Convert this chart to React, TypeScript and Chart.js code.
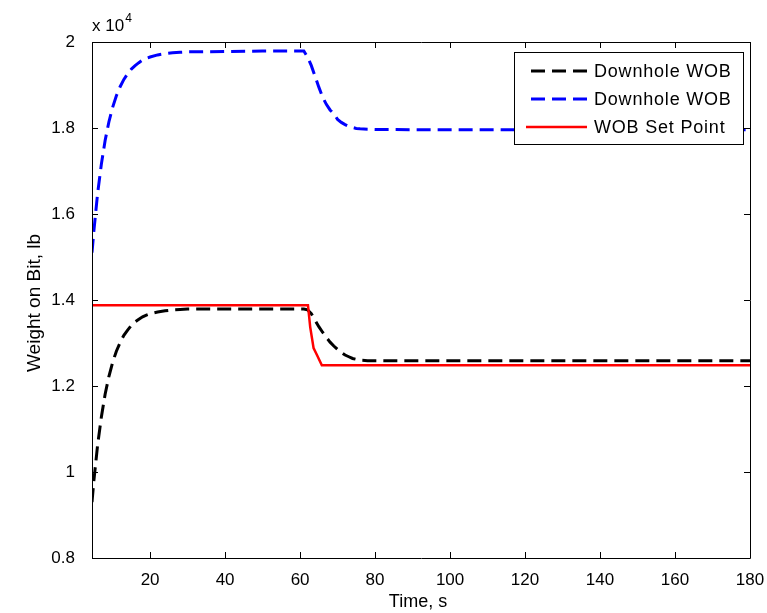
import React, { useEffect, useRef } from 'react';
import { Chart, registerables } from 'chart.js';
Chart.register(...registerables);

const FONT = "'Liberation Sans', Arial, sans-serif";

const xTickValues = [20, 40, 60, 80, 100, 120, 140, 160, 180];
const yTickValues = [8000, 10000, 12000, 14000, 16000, 18000, 20000];

const tCurve = [4.5, 5, 6, 7, 8, 9, 10, 11, 12, 13, 14, 15, 16, 17, 18, 19, 20, 22, 24, 26, 28, 30, 40, 50, 61, 62, 63, 64, 65, 66, 67, 68, 69, 70, 71, 72, 73, 74, 75, 76, 78, 80, 90, 100, 120, 140, 160, 180];

const blackWOB = [9300, 9800, 10630, 11280, 11810, 12220, 12550, 12810, 13010, 13180, 13300, 13410, 13490, 13550, 13610, 13650, 13680, 13720, 13750, 13770, 13780, 13790, 13790, 13790, 13790, 13770, 13680, 13530, 13380, 13250, 13130, 13020, 12930, 12850, 12780, 12720, 12680, 12640, 12620, 12600, 12590, 12590, 12590, 12590, 12590, 12590, 12590, 12590];

const blueWOB = [15100, 15610, 16480, 17160, 17710, 18140, 18480, 18750, 18960, 19130, 19260, 19370, 19450, 19520, 19580, 19620, 19650, 19700, 19730, 19750, 19760, 19770, 19780, 19790, 19790, 19650, 19450, 19200, 18950, 18720, 18550, 18420, 18330, 18200, 18130, 18080, 18040, 18010, 17990, 17980, 17970, 17965, 17960, 17960, 17960, 17960, 17960, 17960];

const tSet = [4.5, 62.1, 62.7, 63.6, 64.5, 65.8, 180];
const setPoint = [13880, 13880, 13370, 12880, 12720, 12480, 12480];

const legendLabels = ['Downhole WOB', 'Downhole WOB', 'WOB Set Point'];

const toXY = (t: number[], v: number[]) => t.map((x, i) => ({ x, y: v[i] }));

const overlay = {
  id: 'matlabOverlay',
  afterDraw(chart: any) {
    const { ctx, chartArea, scales } = chart;
    const { left, right, top, bottom } = chartArea;
    const x = scales.x, y = scales.y;
    ctx.save();
    ctx.strokeStyle = '#000';
    ctx.lineWidth = 1;
    ctx.beginPath();
    ctx.rect(left + 0.5, top + 0.5, right - left, bottom - top);
    xTickValues.forEach((v) => {
      const px = Math.round(x.getPixelForValue(v)) + 0.5;
      ctx.moveTo(px, bottom); ctx.lineTo(px, bottom - 6);
      ctx.moveTo(px, top); ctx.lineTo(px, top + 6);
    });
    yTickValues.forEach((v) => {
      const py = Math.round(y.getPixelForValue(v)) + 0.5;
      ctx.moveTo(left, py); ctx.lineTo(left + 6, py);
      ctx.moveTo(right, py); ctx.lineTo(right - 6, py);
    });
    ctx.stroke();

    ctx.fillStyle = '#000';
    ctx.textBaseline = 'alphabetic';
    ctx.textAlign = 'left';
    ctx.font = `17px ${FONT}`;
    ctx.fillText('x 10', left, 31);
    const w = ctx.measureText('x 10').width;
    ctx.font = `12px ${FONT}`;
    ctx.fillText('4', left + w + 1, 22);

    ctx.font = `18px ${FONT}`;
    ctx.textAlign = 'center';
    ctx.textBaseline = 'middle';
    ctx.fillText('Time, s', (left + right) / 2 - 3, 602);
    ctx.save();
    ctx.translate(35, 303);
    ctx.rotate(-Math.PI / 2);
    ctx.font = `19px ${FONT}`;
    ctx.fillText('Weight on Bit, lb', 0, 0);
    ctx.restore();

    const lx = 514, ly = 52, lw = 229, lh = 92;
    ctx.fillStyle = '#fff';
    ctx.fillRect(lx, ly, lw, lh);
    ctx.strokeStyle = '#000';
    ctx.lineWidth = 1;
    ctx.strokeRect(lx + 0.5, ly + 0.5, lw, lh);
    const rows = [71, 99, 127];
    chart.data.datasets.forEach((ds: any, i: number) => {
      const ry = rows[i];
      ctx.save();
      ctx.strokeStyle = ds.borderColor;
      ctx.lineWidth = ds.borderWidth;
      ctx.setLineDash(ds.borderDash || []);
      ctx.beginPath();
      ctx.moveTo(ds.borderDash ? 531 : 526, ry);
      ctx.lineTo(587, ry);
      ctx.stroke();
      ctx.restore();
      ctx.fillStyle = '#000';
      ctx.font = `18px ${FONT}`;
      ctx.textAlign = 'left';
      ctx.textBaseline = 'middle';
      try { (ctx as any).letterSpacing = '0.8px'; } catch (e) {}
      ctx.fillText(legendLabels[i], 594, ry + 1);
      try { (ctx as any).letterSpacing = '0px'; } catch (e) {}
    });
    ctx.restore();
  },
};

export default function App() {
  const ref = useRef<HTMLCanvasElement | null>(null);
  useEffect(() => {
    if (!ref.current) return;
    const chart = new Chart(ref.current, {
      type: 'line',
      data: {
        datasets: [
          {
            label: legendLabels[0],
            data: toXY(tCurve, blackWOB),
            borderColor: '#000000',
            borderWidth: 3,
            borderDash: [14, 7],
            pointRadius: 0,
            tension: 0,
            order: 2,
          },
          {
            label: legendLabels[1],
            data: toXY(tCurve, blueWOB),
            borderColor: '#0000ff',
            borderWidth: 3,
            borderDash: [14, 7],
            pointRadius: 0,
            tension: 0,
            order: 1,
          },
          {
            label: legendLabels[2],
            data: toXY(tSet, setPoint),
            borderColor: '#ff0000',
            borderWidth: 2.5,
            pointRadius: 0,
            tension: 0,
            order: 0,
          },
        ],
      },
      options: {
        responsive: false,
        animation: false,
        devicePixelRatio: 1,
        layout: { padding: { left: 0, top: 42, right: 17, bottom: 0 } },
        plugins: { legend: { display: false }, tooltip: { enabled: false } },
        scales: {
          x: {
            type: 'linear',
            min: 4.5,
            max: 180,
            grid: { display: false },
            border: { display: false },
            afterBuildTicks: (s: any) => { s.ticks = xTickValues.map((v) => ({ value: v })); },
            afterFit: (s: any) => { s.height = 55; s.paddingLeft = 0; s.paddingRight = 0; },
            ticks: { color: '#000', font: { family: FONT, size: 17 }, padding: 4, maxRotation: 0, autoSkip: false },
          },
          y: {
            type: 'linear',
            min: 8000,
            max: 20000,
            grid: { display: false },
            border: { display: false },
            afterBuildTicks: (s: any) => { s.ticks = yTickValues.map((v) => ({ value: v })); },
            afterFit: (s: any) => { s.width = 92; s.paddingTop = 0; s.paddingBottom = 0; },
            ticks: {
              color: '#000',
              font: { family: FONT, size: 17 },
              padding: 9,
              callback: (v: any) => String(Number((Number(v) / 10000).toFixed(1))),
            },
          },
        },
      },
      plugins: [overlay],
    });
    return () => chart.destroy();
  }, []);
  return (
    <div style={{ position: 'fixed', left: 0, top: 0, width: 767, height: 613, background: '#fff' }}>
      <canvas ref={ref} width={767} height={613} style={{ display: 'block' }} />
    </div>
  );
}
